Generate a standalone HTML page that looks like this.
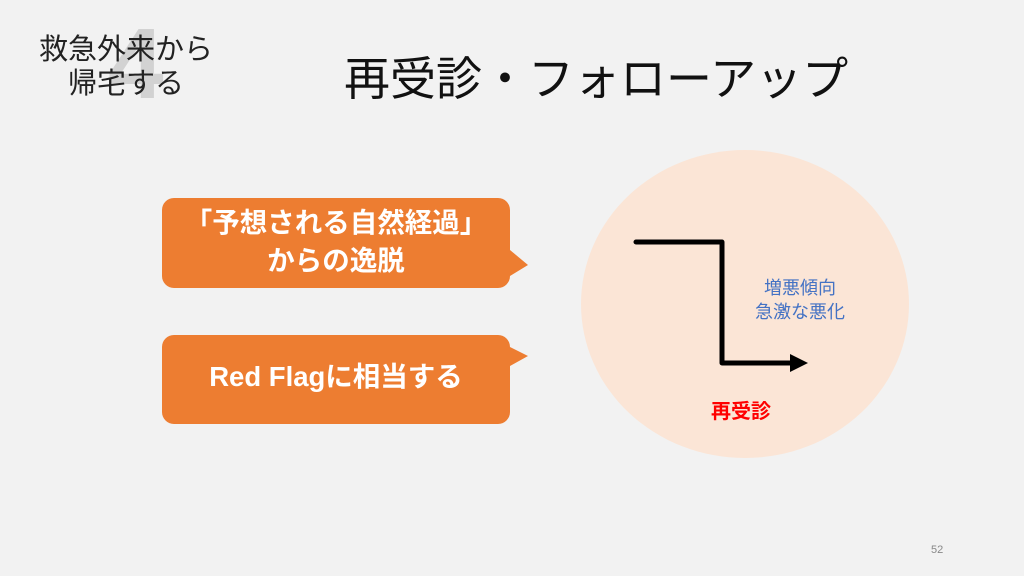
<!DOCTYPE html>
<html><head><meta charset="utf-8"><style>
body{margin:0;width:1024px;height:576px;background:#f2f2f2;position:relative;overflow:hidden;font-family:"Liberation Sans","Noto Sans CJK JP",sans-serif}
.a{position:absolute;white-space:nowrap}
</style></head><body>
<div class="a" style="left:108px;top:14px;font-size:100px;color:#d2d2d2;font-weight:bold;line-height:100px">4</div>
<div class="a" style="left:26px;top:33px;font-size:29px;color:#222;line-height:34px;text-align:center;width:200px">救急外来から<br>帰宅する</div>
<div class="a" style="left:344px;top:50px;font-size:46px;color:#111;line-height:58px">再受診・フォローアップ</div>
<svg class="a" style="left:0;top:0" width="1024" height="576">
<ellipse cx="745" cy="304" rx="164" ry="154" fill="#fbe5d6"/>
<path d="M162 210a12 12 0 0 1 12-12h324a12 12 0 0 1 12 12v40l18 15l-18 11v0a12 12 0 0 1-12 12H174a12 12 0 0 1-12-12z" fill="#ed7d31"/>
<path d="M162 347a12 12 0 0 1 12-12h324a12 12 0 0 1 12 12v0l18 9l-18 10v46a12 12 0 0 1-12 12H174a12 12 0 0 1-12-12z" fill="#ed7d31"/>
<polyline points="636,242 722,242 722,363 792,363" fill="none" stroke="#000" stroke-width="5" stroke-linecap="round" stroke-linejoin="round"/>
<polygon points="790,354 808,363 790,372" fill="#000"/>
</svg>
<div class="a" style="left:162px;top:204px;width:348px;text-align:center;color:#fff;font-weight:bold;font-size:27.5px;line-height:38px">「予想される自然経過」<br>からの逸脱</div>
<div class="a" style="left:162px;top:358px;width:348px;text-align:center;color:#fff;font-weight:bold;font-size:27.5px;line-height:38px">Red Flagに相当する</div>
<div class="a" style="left:740px;top:276px;width:120px;text-align:center;color:#4472c4;font-size:18px;line-height:24px">増悪傾向<br>急激な悪化</div>
<div class="a" style="left:711px;top:395px;color:#ff0000;font-weight:bold;font-size:20px">再受診</div>
<div class="a" style="left:931px;top:544px;color:#888;font-size:11px">52</div>
</body></html>
